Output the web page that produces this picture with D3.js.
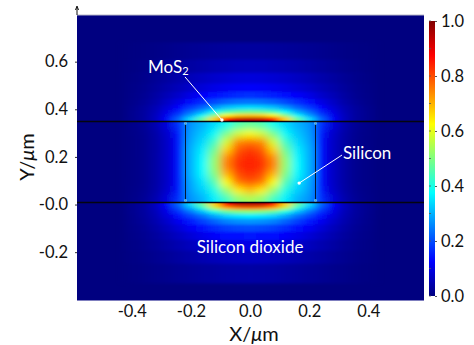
<!DOCTYPE html>
<html>
<head>
<meta charset="utf-8">
<script src="https://cdn.jsdelivr.net/npm/d3@7"></script>
<style>
  body { margin: 0; background: #fff; }
  text { font-family: Lato, "Open Sans", sans-serif; }
</style>
</head>
<body>
<div id="chart"></div>
<script>
// ---- data ----
const xDomain = [-0.585, 0.588];
const yDomain = [-0.403, 0.796];
const xTicks = [-0.4, -0.2, 0, 0.2, 0.4];
const xTickLabels = ["-0.4", "-0.2", "0.0", "0.2", "0.4"];
const yTicks = [-0.2, 0, 0.2, 0.4, 0.6];
const yTickLabels = ["-0.2", "-0.0", "0.2", "0.4", "0.6"];
const colorTicks = [0, 0.2, 0.4, 0.6, 0.8, 1.0];
const colorMinorTicks = [0.1, 0.3, 0.5, 0.7, 0.9];

// silicon core (µm)
const siLeft = -0.22, siRight = 0.22, siBottom = 0.01, siTop = 0.35;

// column edges of the field grid (µm)
const xEdges = [-0.42, -0.38, -0.34, -0.30, -0.26, -0.22, -0.18, -0.14, -0.10, -0.06, -0.02,
                0.02, 0.06, 0.10, 0.14, 0.18, 0.22, 0.26, 0.30, 0.34, 0.38, 0.42];

// field above the top MoS2 layer, rows from the interface upward
const topRowEdges = [0.35, 0.369, 0.383, 0.40, 0.42, 0.445, 0.475, 0.51, 0.555, 0.61, 0.68];
const topField = [
  [.015,.03,.06,.12,.22,.34,.47,.67,.87,.93,.94,.93,.87,.67,.47,.34,.22,.12,.06,.03,.015],
  [.015,.03,.06,.11,.19,.28,.37,.50,.62,.67,.68,.67,.62,.50,.37,.28,.19,.11,.06,.03,.015],
  [.015,.03,.055,.10,.16,.23,.29,.37,.44,.47,.48,.47,.44,.37,.29,.23,.16,.10,.055,.03,.015],
  [.013,.028,.05,.085,.13,.18,.22,.27,.31,.33,.34,.33,.31,.27,.22,.18,.13,.085,.05,.028,.013],
  [.01,.022,.04,.07,.10,.135,.165,.195,.22,.235,.24,.235,.22,.195,.165,.135,.10,.07,.04,.022,.01],
  [.008,.018,.033,.055,.075,.10,.12,.14,.155,.165,.17,.165,.155,.14,.12,.10,.075,.055,.033,.018,.008],
  [.007,.015,.027,.042,.057,.073,.087,.10,.11,.117,.12,.117,.11,.10,.087,.073,.057,.042,.027,.015,.007],
  [.005,.012,.021,.032,.043,.055,.065,.075,.082,.088,.09,.088,.082,.075,.065,.055,.043,.032,.021,.012,.005],
  [.003,.008,.013,.02,.027,.034,.04,.046,.05,.054,.055,.054,.05,.046,.04,.034,.027,.02,.013,.008,.003],
  [.002,.004,.007,.011,.015,.019,.022,.025,.028,.03,.03,.03,.028,.025,.022,.019,.015,.011,.007,.004,.002]
];

// field in the silicon layer, rows from bottom to top
const midRowEdges = [0.01, 0.044, 0.078, 0.112, 0.146, 0.18, 0.214, 0.248, 0.282, 0.316, 0.35];
const midField = [
  [.008,.02,.045,.09,.17,.27,.30,.36,.43,.51,.54,.51,.43,.36,.30,.27,.17,.09,.045,.02,.008],
  [.007,.017,.037,.075,.15,.285,.33,.40,.52,.64,.69,.64,.52,.40,.33,.285,.15,.075,.037,.017,.007],
  [.006,.015,.035,.07,.14,.29,.35,.45,.62,.76,.79,.76,.62,.45,.35,.29,.14,.07,.035,.015,.006],
  [.006,.015,.035,.07,.14,.30,.37,.50,.70,.80,.83,.80,.70,.50,.37,.30,.14,.07,.035,.015,.006],
  [.006,.015,.035,.07,.14,.30,.375,.52,.75,.83,.85,.83,.75,.52,.375,.30,.14,.07,.035,.015,.006],
  [.006,.015,.035,.07,.14,.30,.37,.515,.74,.82,.84,.82,.74,.515,.37,.30,.14,.07,.035,.015,.006],
  [.006,.015,.035,.07,.14,.30,.36,.48,.67,.79,.82,.79,.67,.48,.36,.30,.14,.07,.035,.015,.006],
  [.006,.015,.035,.07,.14,.29,.34,.43,.58,.74,.76,.74,.58,.43,.34,.29,.14,.07,.035,.015,.006],
  [.007,.017,.037,.075,.15,.28,.32,.38,.49,.58,.62,.58,.49,.38,.32,.28,.15,.075,.037,.017,.007],
  [.008,.02,.045,.09,.17,.27,.30,.34,.39,.45,.47,.45,.39,.34,.30,.27,.17,.09,.045,.02,.008]
];

// field below the bottom MoS2 layer, rows from the interface downward
const botRowEdges = [0.01, -0.009, -0.023, -0.04, -0.06, -0.085, -0.115, -0.15, -0.195, -0.25, -0.33];
const botField = [
  [.015,.03,.06,.12,.22,.34,.47,.67,.87,.94,.95,.94,.87,.67,.47,.34,.22,.12,.06,.03,.015],
  [.015,.03,.06,.11,.20,.30,.41,.56,.70,.75,.76,.75,.70,.56,.41,.30,.20,.11,.06,.03,.015],
  [.015,.03,.055,.10,.17,.24,.31,.40,.47,.50,.51,.50,.47,.40,.31,.24,.17,.10,.055,.03,.015],
  [.013,.028,.05,.09,.14,.19,.235,.29,.33,.35,.36,.35,.33,.29,.235,.19,.14,.09,.05,.028,.013],
  [.012,.025,.045,.075,.11,.15,.185,.22,.25,.265,.27,.265,.25,.22,.185,.15,.11,.075,.045,.025,.012],
  [.01,.02,.037,.06,.087,.115,.14,.165,.185,.195,.20,.195,.185,.165,.14,.115,.087,.06,.037,.02,.01],
  [.008,.017,.03,.047,.066,.086,.104,.12,.135,.142,.145,.142,.135,.12,.104,.086,.066,.047,.03,.017,.008],
  [.006,.013,.023,.035,.048,.061,.073,.084,.093,.098,.10,.098,.093,.084,.073,.061,.048,.035,.023,.013,.006],
  [.004,.009,.016,.024,.032,.04,.048,.055,.06,.064,.065,.064,.06,.055,.048,.04,.032,.024,.016,.009,.004],
  [.002,.005,.009,.013,.018,.022,.026,.029,.032,.034,.035,.034,.032,.029,.026,.022,.018,.013,.009,.005,.002]
];

// annotations (µm)
const mos2Label = { x: -0.345, y: 0.578 };
const mos2Arrow = [[-0.22, 0.536], [-0.095, 0.355]];
const siLabel = { x: 0.314, y: 0.216 };
const siArrow = [[0.311, 0.208], [0.166, 0.09]];
const oxideLabel = { x: 0, y: -0.179 };

// ---- drawing ----
const W = 474, H = 345;
const svg = d3.select("#chart").append("svg")
  .attr("width", W).attr("height", H);
const defs = svg.append("defs");

const x = d3.scaleLinear().domain(xDomain).range([77, 424]);
const y = d3.scaleLinear().domain(yDomain).range([300.5, 15]);

// jet colormap
const jet = d3.scaleLinear()
  .domain([0, 0.125, 0.375, 0.625, 0.875, 1])
  .range(["#000080", "#0000ff", "#00ffff", "#ffff00", "#ff0000", "#800000"])
  .clamp(true);

// background of the plot (field ~ 0)
svg.append("rect")
  .attr("x", x(xDomain[0])).attr("y", y(yDomain[1]))
  .attr("width", x(xDomain[1]) - x(xDomain[0]))
  .attr("height", y(yDomain[0]) - y(yDomain[1]))
  .attr("fill", jet(0));

function drawBand(name, rowEdges, field, lo, hi, blur) {
  defs.append("clipPath").attr("id", "clip-" + name)
    .append("rect")
    .attr("x", x(xDomain[0])).attr("width", x(xDomain[1]) - x(xDomain[0]))
    .attr("y", y(hi)).attr("height", y(lo) - y(hi));

  defs.append("filter").attr("id", "blur-" + name)
    .attr("filterUnits", "userSpaceOnUse")
    .attr("x", 0).attr("y", 0).attr("width", W).attr("height", H)
    .append("feGaussianBlur").attr("stdDeviation", blur);

  const cells = [];
  field.forEach((row, r) => row.forEach((v, c) => cells.push({ r, c, v })));

  // rows that touch an interface are drawn a bit past it so the blur does not fade there
  const pad = e => (e === siTop || e === siBottom) ? 12 : 0;
  function span(r) {
    const e0 = rowEdges[r], e1 = rowEdges[r + 1];
    const top = Math.max(e0, e1), bot = Math.min(e0, e1);
    return [y(top) - pad(top), y(bot) + pad(bot)];
  }

  svg.append("g").attr("clip-path", `url(#clip-${name})`)
    .append("g").attr("filter", `url(#blur-${name})`)
    .selectAll("rect").data(cells).join("rect")
    .attr("x", d => x(xEdges[d.c]) - 0.3)
    .attr("width", d => x(xEdges[d.c + 1]) - x(xEdges[d.c]) + 0.6)
    .attr("y", d => span(d.r)[0] - 0.3)
    .attr("height", d => span(d.r)[1] - span(d.r)[0] + 0.6)
    .attr("fill", d => jet(d.v));
}

drawBand("top", topRowEdges, topField, siTop, yDomain[1], "4.5 1.4");
drawBand("mid", midRowEdges, midField, siBottom, siTop, "4 3.5");
drawBand("bot", botRowEdges, botField, yDomain[0], siBottom, "4.5 1.4");

// MoS2 layers / interfaces
const snap = v => Math.round(v) + 0.5;
const lines = svg.append("g").attr("stroke", "#05050f").attr("fill", "none");
[siTop, siBottom].forEach(v => {
  lines.append("line")
    .attr("x1", x(xDomain[0])).attr("x2", x(xDomain[1]))
    .attr("y1", snap(y(v))).attr("y2", snap(y(v)))
    .attr("stroke-width", 1.3);
});
[siLeft, siRight].forEach(v => {
  lines.append("line")
    .attr("x1", snap(x(v))).attr("x2", snap(x(v)))
    .attr("y1", snap(y(siTop))).attr("y2", snap(y(siBottom)))
    .attr("stroke-width", 1).attr("stroke-opacity", 0.85);
});
// small bright spots at the core corners
svg.append("g").selectAll("circle")
  .data([[siLeft, siTop], [siRight, siTop], [siLeft, siBottom], [siRight, siBottom]])
  .join("circle")
  .attr("cx", d => snap(x(d[0]))).attr("cy", d => snap(y(d[1])) + (d[1] === siTop ? 2 : -2))
  .attr("r", 1.4).attr("fill", "#7fe0ff").attr("opacity", 0.7);

// frame
svg.append("line")
  .attr("x1", x(xDomain[0])).attr("x2", x(xDomain[1]))
  .attr("y1", y(yDomain[1])).attr("y2", y(yDomain[1]))
  .attr("stroke", "#b8b8c8").attr("stroke-width", 1);
svg.append("path")
  .attr("d", `M${x(xDomain[0])},${y(yDomain[1])}V7 M${x(xDomain[0]) - 1.5},10 L${x(xDomain[0])},6 L${x(xDomain[0]) + 1.5},10`)
  .attr("stroke", "#111").attr("fill", "none").attr("stroke-width", 1);

// axes
const xAxis = svg.append("g")
  .attr("transform", `translate(0,${y(yDomain[0])})`)
  .call(d3.axisBottom(x).tickValues(xTicks).tickSize(0).tickPadding(5)
    .tickFormat((d, i) => xTickLabels[i]));
xAxis.select(".domain").remove();
xAxis.selectAll("text").attr("font-size", 16.5).attr("fill", "#111")
  .attr("font-family", "Lato, 'Open Sans', sans-serif");

const yAxis = svg.append("g")
  .attr("transform", `translate(${x(xDomain[0])},0)`)
  .call(d3.axisLeft(y).tickValues(yTicks).tickSize(2).tickPadding(7)
    .tickFormat((d, i) => yTickLabels[i]));
yAxis.select(".domain").remove();
yAxis.selectAll("line").attr("stroke", "#333");
yAxis.selectAll("text").attr("font-size", 16.5).attr("fill", "#111")
  .attr("font-family", "Lato, 'Open Sans', sans-serif");

// axis titles
const xTitle = svg.append("text")
  .attr("x", 254).attr("y", 341)
  .attr("text-anchor", "middle").attr("font-size", 20).attr("fill", "#111");
xTitle.append("tspan").text("X/");
xTitle.append("tspan").attr("font-style", "italic").text("μ");
xTitle.append("tspan").text("m");

const yTitle = svg.append("text")
  .attr("transform", "translate(34,157) rotate(-90)")
  .attr("text-anchor", "middle").attr("font-size", 20).attr("fill", "#111");
yTitle.append("tspan").text("Y/");
yTitle.append("tspan").attr("font-style", "italic").text("μ");
yTitle.append("tspan").text("m");

// annotations
const white = "#ffffff";
const mos2 = svg.append("text")
  .attr("x", x(mos2Label.x)).attr("y", y(mos2Label.y))
  .attr("dy", "0.35em").attr("font-size", 17).attr("fill", white);
mos2.append("tspan").text("MoS");
mos2.append("tspan").attr("font-size", 11).attr("dy", 2).text("2");

svg.append("text")
  .attr("x", x(siLabel.x)).attr("y", y(siLabel.y))
  .attr("dy", "0.35em").attr("font-size", 17).attr("fill", white).text("Silicon");

svg.append("text")
  .attr("x", x(oxideLabel.x)).attr("y", y(oxideLabel.y))
  .attr("dy", "0.35em").attr("text-anchor", "middle")
  .attr("font-size", 17).attr("fill", white).text("Silicon dioxide");

[mos2Arrow, siArrow].forEach(a => {
  svg.append("line")
    .attr("x1", x(a[0][0])).attr("y1", y(a[0][1]))
    .attr("x2", x(a[1][0])).attr("y2", y(a[1][1]))
    .attr("stroke", white).attr("stroke-width", 1);
  svg.append("circle")
    .attr("cx", x(a[1][0])).attr("cy", y(a[1][1]))
    .attr("r", 1.7).attr("fill", white);
});

// colorbar
const cy = d3.scaleLinear().domain([0, 1]).range([296, 21]);
const grad = defs.append("linearGradient").attr("id", "jetbar")
  .attr("x1", 0).attr("y1", 1).attr("x2", 0).attr("y2", 0);
grad.selectAll("stop").data(jet.domain()).join("stop")
  .attr("offset", d => d)
  .attr("stop-color", d => jet(d));
svg.append("rect")
  .attr("x", 429).attr("y", cy(1)).attr("width", 6).attr("height", cy(0) - cy(1))
  .attr("fill", "url(#jetbar)");

const cAxis = svg.append("g").attr("transform", "translate(435,0)")
  .call(d3.axisRight(cy).tickValues(colorTicks).tickSize(2).tickPadding(4)
    .tickFormat(d3.format(".1f")));
cAxis.select(".domain").remove();
cAxis.selectAll("line").attr("stroke", "#555");
cAxis.selectAll("text").attr("font-size", 16.5).attr("fill", "#111")
  .attr("font-family", "Lato, 'Open Sans', sans-serif");

svg.append("g").selectAll("line").data(colorMinorTicks.concat(colorTicks)).join("line")
  .attr("x1", 429).attr("x2", 431)
  .attr("y1", d => cy(d)).attr("y2", d => cy(d))
  .attr("stroke", "#555").attr("stroke-width", 0.8);
</script>
</body>
</html>
